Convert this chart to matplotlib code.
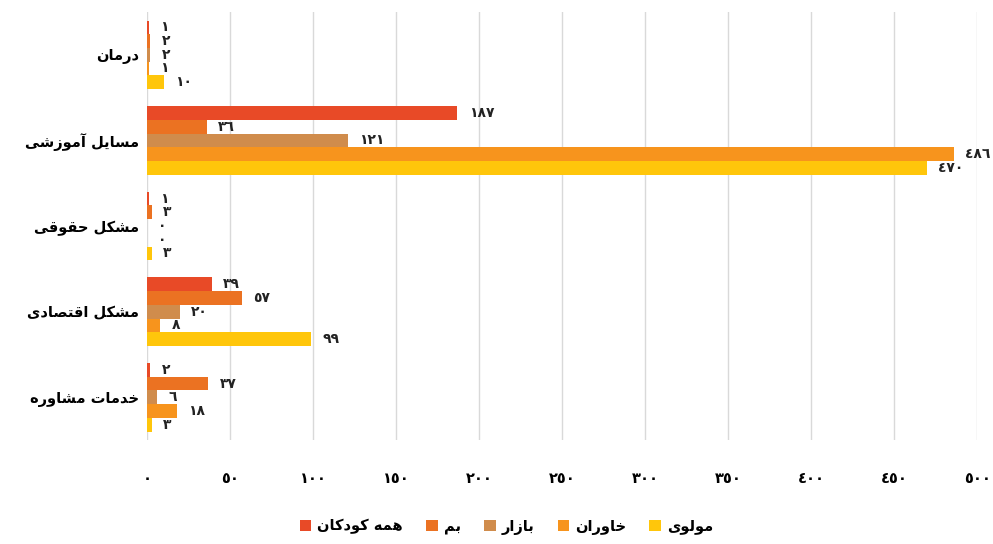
import numpy as np
import matplotlib
matplotlib.use('Agg')
import matplotlib.pyplot as plt

plt.rcParams['font.family'] = ['DejaVu Sans']

# ── داده‌ها ──────────────────────────────────────────────
categories = ['درمان', 'مسایل آموزشی', 'مشکل حقوقی', 'مشکل اقتصادی', 'خدمات مشاوره']
series_names = ['همه کودکان', 'بم', 'بازار', 'خاوران', 'مولوی']
all_children = [1, 187, 1, 39, 2]
bam = [2, 36, 3, 57, 37]
bazar = [2, 121, 0, 20, 6]
khavaran = [1, 486, 0, 8, 18]
molavi = [10, 470, 3, 99, 3]
series_values = [all_children, bam, bazar, khavaran, molavi]
x_ticks = [0, 50, 100, 150, 200, 250, 300, 350, 400, 450, 500]

colors = ['#E84A27', '#EB7222', '#D08C4C', '#F7941D', '#FFC60B']

# ── شکل‌دهی ساده حروف فارسی (بدون کتابخانه) ────────────────
# letter: (isolated, final, initial, medial) ; None => right-joining only
FORMS = {
    'ا': ('\uFE8D', '\uFE8E', None, None),
    'آ': ('\uFE81', '\uFE82', None, None),
    'ب': ('\uFE8F', '\uFE90', '\uFE91', '\uFE92'),
    'ت': ('\uFE95', '\uFE96', '\uFE97', '\uFE98'),
    'ح': ('\uFEA1', '\uFEA2', '\uFEA3', '\uFEA4'),
    'خ': ('\uFEA5', '\uFEA6', '\uFEA7', '\uFEA8'),
    'د': ('\uFEA9', '\uFEAA', None, None),
    'ر': ('\uFEAD', '\uFEAE', None, None),
    'ز': ('\uFEAF', '\uFEB0', None, None),
    'س': ('\uFEB1', '\uFEB2', '\uFEB3', '\uFEB4'),
    'ش': ('\uFEB5', '\uFEB6', '\uFEB7', '\uFEB8'),
    'ص': ('\uFEB9', '\uFEBA', '\uFEBB', '\uFEBC'),
    'ق': ('\uFED5', '\uFED6', '\uFED7', '\uFED8'),
    'ل': ('\uFEDD', '\uFEDE', '\uFEDF', '\uFEE0'),
    'م': ('\uFEE1', '\uFEE2', '\uFEE3', '\uFEE4'),
    'ن': ('\uFEE5', '\uFEE6', '\uFEE7', '\uFEE8'),
    'ه': ('\uFEE9', '\uFEEA', '\uFEEB', '\uFEEC'),
    'و': ('\uFEED', '\uFEEE', None, None),
    'ک': ('\uFB8E', '\uFB8F', '\uFB90', '\uFB91'),
    'ی': ('\uFBFC', '\uFBFD', '\uFBFE', '\uFBFF'),
}


def dual(c):
    return c in FORMS and FORMS[c][2] is not None


def fa(text):
    out = []
    for i, c in enumerate(text):
        if c not in FORMS:
            out.append(c)
            continue
        prev_c = text[i - 1] if i > 0 else ''
        next_c = text[i + 1] if i + 1 < len(text) else ''
        jp = dual(prev_c)
        jn = dual(c) and next_c in FORMS
        iso, fin, ini, med = FORMS[c]
        if jp and jn:
            out.append(med)
        elif jp:
            out.append(fin)
        elif jn:
            out.append(ini)
        else:
            out.append(iso)
    return ''.join(out)[::-1]


def fa_num(n):
    return ''.join(chr(0x0660 + int(d)) for d in str(n))


# ── رسم ──────────────────────────────────────────────────
fig = plt.figure(figsize=(9.93, 5.44), dpi=100)
ax = fig.add_axes([0.148, 0.191, 0.836, 0.787])

y = np.arange(len(categories))
h = 0.16
for i, (name, vals) in enumerate(zip(series_names, series_values)):
    pos = y + (i - 2) * h
    ax.barh(pos, vals, height=h, color=colors[i], label=fa(name), zorder=3)
    for p, v in zip(pos, vals):
        ax.annotate(fa_num(v), xy=(v, p), xytext=(8, 0), textcoords='offset points',
                    ha='left', va='center', fontsize=10, fontweight='bold', color='#222222')

ax.set_xlim(0, 500)
ax.set_ylim(4.5, -0.5)
ax.set_xticks(x_ticks)
ax.set_xticklabels([fa_num(t) for t in x_ticks], fontsize=10.5, fontweight='bold')
ax.set_yticks(y)
ax.set_yticklabels([fa(c) for c in categories], fontsize=10.5, fontweight='bold')
ax.tick_params(axis='x', length=0, pad=22)
ax.tick_params(axis='y', length=0, pad=6)
ax.grid(axis='x', color='#d9d9d9', linewidth=1, zorder=0)
for s in ax.spines.values():
    s.set_visible(False)

fig.legend(loc='center', bbox_to_anchor=(0.51, 0.032), ncol=5, frameon=False,
           prop={'size': 10.5, 'weight': 'bold'}, handlelength=0.8, handleheight=0.8,
           handletextpad=0.4, columnspacing=1.6)

fig.savefig('out.png', dpi=100)
